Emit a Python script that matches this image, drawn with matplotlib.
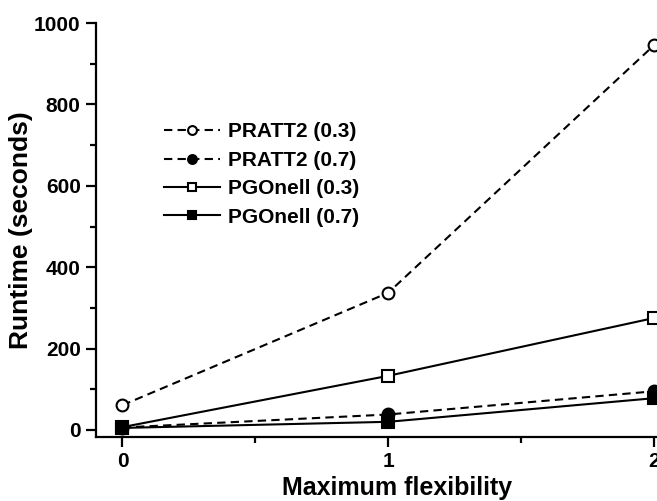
import matplotlib.pyplot as plt
from matplotlib.ticker import MultipleLocator

# Runtime (s) against maximum flexibility
flexibility = [0, 1, 2]
pratt2_03 = [61, 337, 945]
pratt2_07 = [6, 38, 95]
pgonell_03 = [7, 133, 275]
pgonell_07 = [5, 20, 78]

plt.rcParams['font.family'] = ['Liberation Sans', 'DejaVu Sans']
plt.rcParams['font.weight'] = 'bold'

fig = plt.figure(figsize=(6.57, 5.01), dpi=100)
ax = fig.add_axes([0.146, 0.128, 0.854, 0.826])

dash = (0, (4, 2.5))
common = dict(color='black', linewidth=1.5, markersize=8.5, markeredgewidth=1.5)

ax.plot(flexibility, pratt2_03, linestyle=dash, marker='o',
        markerfacecolor='white', label='PRATT2 (0.3)', **common)
ax.plot(flexibility, pratt2_07, linestyle=dash, marker='o',
        markerfacecolor='black', label='PRATT2 (0.7)', **common)
ax.plot(flexibility, pgonell_03, linestyle='-', marker='s',
        markerfacecolor='white', label='PGOnell (0.3)', **common)
ax.plot(flexibility, pgonell_07, linestyle='-', marker='s',
        markerfacecolor='black', label='PGOnell (0.7)', **common)

ax.set_xlim(-0.10, 2.012)
ax.set_ylim(-17, 1000)

ax.xaxis.set_major_locator(MultipleLocator(1))
ax.xaxis.set_minor_locator(MultipleLocator(0.5))
ax.yaxis.set_major_locator(MultipleLocator(200))
ax.yaxis.set_minor_locator(MultipleLocator(100))

for side in ('top', 'right'):
    ax.spines[side].set_visible(False)
for side in ('left', 'bottom'):
    ax.spines[side].set_linewidth(1.6)

ax.tick_params(which='major', direction='out', length=7, width=1.6,
               labelsize=15, pad=4)
ax.tick_params(which='minor', direction='out', length=4, width=1.6)

ax.set_xlabel('Maximum flexibility', fontsize=18, fontweight='bold')
ax.xaxis.set_label_coords(0.537, -0.095)
ax.set_ylabel('Runtime (seconds)', fontsize=19, fontweight='bold', labelpad=1)

ax.legend(loc='upper left', bbox_to_anchor=(0.102, 0.785), frameon=False,
          fontsize=15, handlelength=2.72, handletextpad=0.35,
          labelspacing=0.45, borderpad=0, markerscale=0.75)

fig.savefig('out.png', dpi=100)
